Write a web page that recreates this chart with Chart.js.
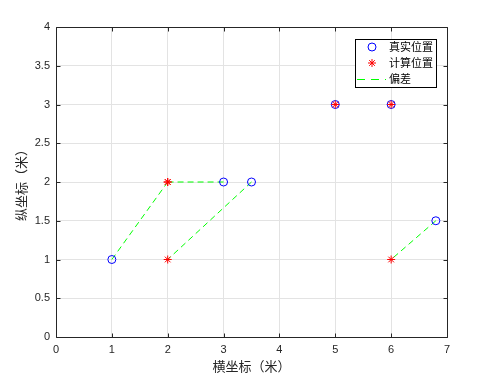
<!DOCTYPE html>
<html>
<head>
<meta charset="utf-8">
<script src="https://cdn.jsdelivr.net/npm/chart.js@4"></script>
<style>
html,body{margin:0;padding:0;background:#fff;}
#wrap{width:485px;height:381px;position:relative;}
</style>
</head>
<body>
<div id="wrap"><canvas id="c" width="485" height="381"></canvas></div>
<script>
// True positions
const trueX = [1, 3, 3.5, 5, 6, 6.8];
const trueY = [1, 2, 2, 3, 3, 1.5];
// Computed positions
const calcX = [2, 2, 2, 5, 6, 6];
const calcY = [2, 2, 1, 3, 3, 1];
// Labels
const legendLabels = ['真实位置', '计算位置', '偏差'];
const xTitle = '横坐标（米）';
const yTitle = '纵坐标（米）';
const xTicks = [0, 1, 2, 3, 4, 5, 6, 7];
const yTicks = [0, 0.5, 1, 1.5, 2, 2.5, 3, 3.5, 4];

const tickColor = '#262626';
const tickFont = {family: '"Liberation Sans", Arial, sans-serif', size: 11};
const cjkFont = '"Noto Sans CJK SC", sans-serif';

const datasets = [];
// deviation segments (one dataset per segment, first one labelled for the legend)
for (let i = 0; i < trueX.length; i++) {
  datasets.push({
    type: 'line',
    label: i === 0 ? legendLabels[2] : '',
    data: [{x: trueX[i], y: trueY[i]}, {x: calcX[i], y: calcY[i]}],
    borderColor: '#00ff00',
    borderWidth: 1,
    borderDash: [6, 4],
    pointRadius: 0,
    fill: false,
    showLine: true,
    order: 3
  });
}
datasets.push({
  type: 'scatter',
  label: legendLabels[0],
  data: trueX.map((x, i) => ({x: x, y: trueY[i]})),
  pointStyle: 'circle',
  pointRadius: 4,
  borderColor: '#0000ff',
  backgroundColor: 'rgba(0,0,0,0)',
  borderWidth: 1,
  order: 2
});
datasets.push({
  type: 'scatter',
  label: legendLabels[1],
  data: calcX.map((x, i) => ({x: x, y: calcY[i]})),
  pointStyle: 'star',
  pointRadius: 4,
  borderColor: '#ff0000',
  backgroundColor: '#ff0000',
  borderWidth: 1,
  order: 1
});

const boxPlugin = {
  id: 'boxPlugin',
  afterDraw(chart) {
    const ctx = chart.ctx;
    const a = chart.chartArea;
    const xs = chart.scales.x, ys = chart.scales.y;
    ctx.save();
    ctx.strokeStyle = tickColor;
    ctx.lineWidth = 1;
    const L = Math.round(a.left) + 0.5, R = Math.round(a.right) + 0.5;
    const T = Math.round(a.top) + 0.5, B = Math.round(a.bottom) + 0.5;
    ctx.beginPath();
    ctx.rect(L, T, R - L, B - T);
    xTicks.forEach(v => {
      const px = Math.round(xs.getPixelForValue(v)) + 0.5;
      ctx.moveTo(px, B); ctx.lineTo(px, B - 4);
      ctx.moveTo(px, T); ctx.lineTo(px, T + 4);
    });
    yTicks.forEach(v => {
      const py = Math.round(ys.getPixelForValue(v)) + 0.5;
      ctx.moveTo(L, py); ctx.lineTo(L + 4, py);
      ctx.moveTo(R, py); ctx.lineTo(R - 4, py);
    });
    ctx.stroke();

    // legend
    const lx = 355.5, ly = 39.5, lw = 81, lh = 48;
    ctx.fillStyle = '#ffffff';
    ctx.fillRect(lx, ly, lw, lh);
    ctx.strokeStyle = '#000000';
    ctx.strokeRect(lx, ly, lw, lh);
    const rows = [47, 63, 79];
    const symX = 372;
    // circle
    ctx.beginPath();
    ctx.strokeStyle = '#0000ff';
    ctx.arc(symX, rows[0], 4, 0, Math.PI * 2);
    ctx.stroke();
    // star
    ctx.beginPath();
    ctx.strokeStyle = '#ff0000';
    const r = 4;
    for (let k = 0; k < 4; k++) {
      const ang = k * Math.PI / 4;
      ctx.moveTo(symX - r * Math.cos(ang), rows[1] - r * Math.sin(ang));
      ctx.lineTo(symX + r * Math.cos(ang), rows[1] + r * Math.sin(ang));
    }
    ctx.stroke();
    // dashed line
    ctx.beginPath();
    ctx.strokeStyle = '#00ff00';
    ctx.setLineDash([8, 6]);
    ctx.moveTo(357, rows[2] + 0.5);
    ctx.lineTo(386, rows[2] + 0.5);
    ctx.stroke();
    ctx.setLineDash([]);
    ctx.fillStyle = '#000000';
    ctx.font = '11px ' + cjkFont;
    ctx.textAlign = 'left';
    ctx.textBaseline = 'middle';
    legendLabels.forEach((t, i) => ctx.fillText(t, 389, rows[i]));
    ctx.restore();
  }
};

new Chart(document.getElementById('c'), {
  data: {datasets: datasets},
  options: {
    responsive: false,
    animation: false,
    layout: {padding: {top: 27, right: 38, left: 0, bottom: 0}},
    plugins: {legend: {display: false}, tooltip: {enabled: false}},
    scales: {
      x: {
        type: 'linear',
        min: 0, max: 7,
        afterBuildTicks(s) { s.ticks = xTicks.map(v => ({value: v})); },
        afterFit(s) { s.height = 44; },
        ticks: {color: tickColor, font: tickFont, padding: 6, maxRotation: 0, callback: v => String(v)},
        grid: {color: '#e3e3e3', drawTicks: false, lineWidth: 1},
        border: {display: false},
        title: {display: true, text: xTitle, color: tickColor, font: {family: cjkFont, size: 13}, padding: {top: 7, bottom: 7}}
      },
      y: {
        type: 'linear',
        min: 0, max: 4,
        afterBuildTicks(s) { s.ticks = yTicks.map(v => ({value: v})); },
        afterFit(s) { s.width = 56; },
        ticks: {color: tickColor, font: tickFont, padding: 6, callback: v => String(v)},
        grid: {color: '#e3e3e3', drawTicks: false, lineWidth: 1},
        border: {display: false},
        title: {display: true, text: yTitle, color: tickColor, font: {family: cjkFont, size: 13}, padding: {top: 13, bottom: 13}}
      }
    }
  },
  plugins: [boxPlugin]
});
</script>
</body>
</html>
